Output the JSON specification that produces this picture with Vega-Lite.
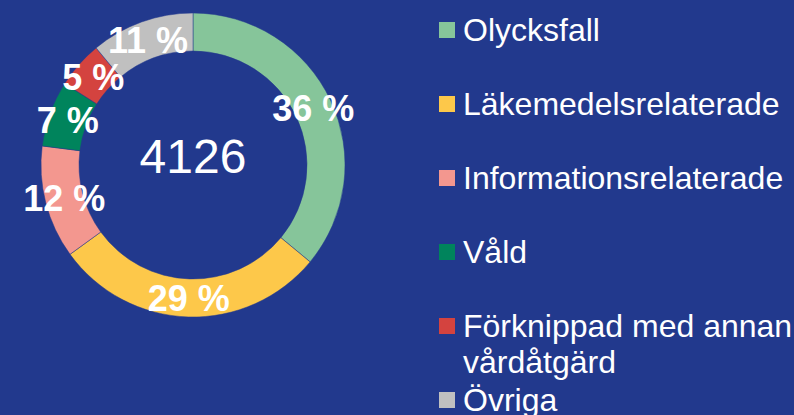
{
  "$schema": "https://vega.github.io/schema/vega-lite/v6.json",
  "background": "#22398D",
  "padding": 0,
  "autosize": {"type": "pad"},
  "config": {"view": {"stroke": null}, "font": "Liberation Sans"},
  "datasets": {
    "cats": [
      {"cat": "Olycksfall", "label": "Olycksfall", "pct": 36, "pctLabel": "36 %", "order": 1},
      {"cat": "Läkemedelsrelaterade", "label": "Läkemedelsrelaterade", "pct": 29, "pctLabel": "29 %", "order": 2},
      {"cat": "Informationsrelaterade", "label": "Informationsrelaterade", "pct": 12, "pctLabel": "12 %", "order": 3},
      {"cat": "Våld", "label": "Våld", "pct": 7, "pctLabel": "7 %", "order": 4},
      {"cat": "Förknippad med annan vårdåtgärd", "label": "Förknippad med annan\nvårdåtgärd", "pct": 5, "pctLabel": "5 %", "order": 5},
      {"cat": "Övriga", "label": "Övriga", "pct": 11, "pctLabel": "11 %", "order": 6}
    ],
    "total": [{"n": "4126"}]
  },
  "hconcat": [
    {
      "width": 386,
      "height": 330,
      "layer": [
        {
          "data": {"name": "cats"},
          "mark": {"type": "arc", "outerRadius": 152, "innerRadius": 114, "stroke": "#22398D", "strokeWidth": 0.5},
          "encoding": {
            "theta": {"field": "pct", "type": "quantitative", "stack": true},
            "order": {"field": "order", "type": "quantitative"},
            "color": {
              "field": "cat", "type": "nominal", "legend": null,
              "scale": {
                "domain": ["Olycksfall", "Läkemedelsrelaterade", "Informationsrelaterade", "Våld", "Förknippad med annan vårdåtgärd", "Övriga"],
                "range": ["#86C59A", "#FDC84A", "#F3978F", "#00845C", "#D4433F", "#C0C0C0"]
              }
            }
          }
        },
        {
          "data": {"name": "cats"},
          "mark": {"type": "text", "radius": 133, "fontSize": 36, "fontWeight": "bold", "color": "white", "baseline": "middle", "align": "center", "dy": 2},
          "encoding": {
            "theta": {"field": "pct", "type": "quantitative", "stack": true},
            "order": {"field": "order", "type": "quantitative"},
            "text": {"field": "pctLabel"},
            "detail": {"field": "cat"}
          }
        },
        {
          "data": {"name": "total"},
          "mark": {"type": "text", "fontSize": 48, "color": "white", "baseline": "middle", "align": "center", "dy": -6},
          "encoding": {"text": {"field": "n"}}
        }
      ]
    },
    {
      "width": 355,
      "height": 415,
      "data": {"name": "cats"},
      "encoding": {
        "y": {"field": "cat", "type": "nominal", "sort": {"field": "order"}, "axis": null, "scale": {"type": "point", "range": [30, 400], "padding": 0}},
        "x": {"datum": 0, "type": "quantitative", "axis": null, "scale": {"domain": [0, 1], "range": [0, 355]}}
      },
      "layer": [
        {
          "mark": {"type": "point", "shape": "square", "filled": true, "opacity": 1, "size": 256},
          "encoding": {
            "color": {"field": "cat", "type": "nominal", "legend": null,
              "scale": {
                "domain": ["Olycksfall", "Läkemedelsrelaterade", "Informationsrelaterade", "Våld", "Förknippad med annan vårdåtgärd", "Övriga"],
                "range": ["#86C59A", "#FDC84A", "#F3978F", "#00845C", "#D4433F", "#C0C0C0"]
              }}
          }
        },
        {
          "mark": {"type": "text", "align": "left", "baseline": "alphabetic", "dx": 16, "dy": 11, "fontSize": 32, "color": "white", "lineBreak": "\n", "lineHeight": 36},
          "encoding": {"text": {"field": "label"}}
        }
      ]
    }
  ],
  "spacing": 53
}
